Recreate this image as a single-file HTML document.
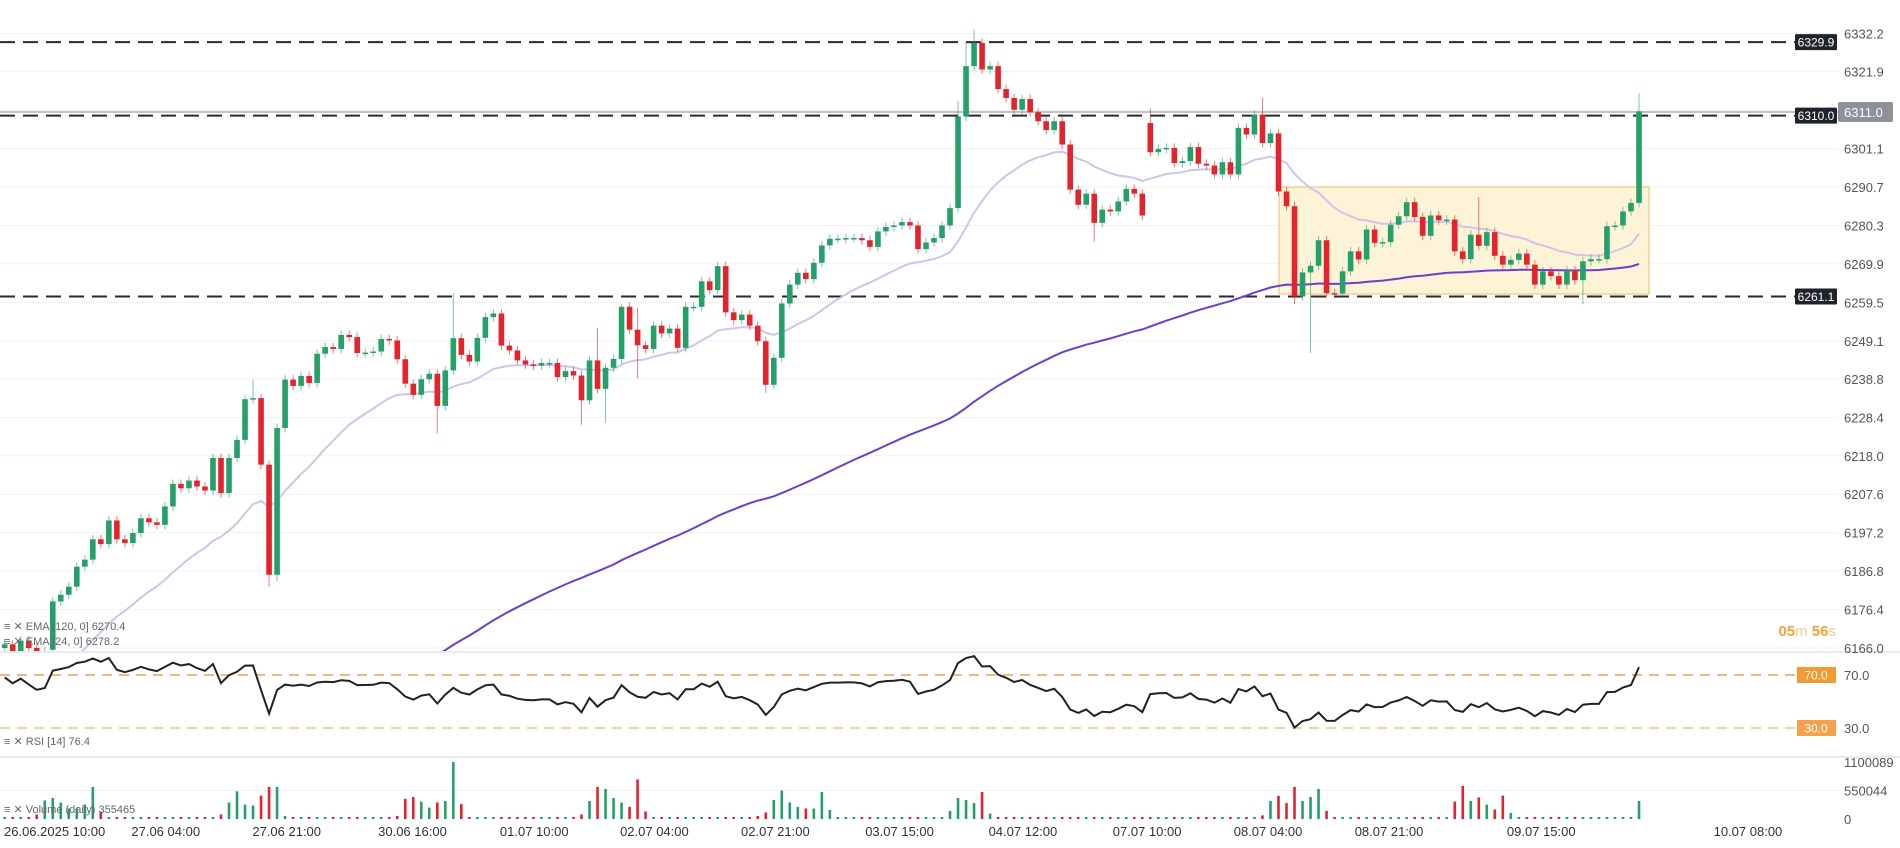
<!DOCTYPE html>
<html><head><meta charset="utf-8"><style>
html,body{margin:0;padding:0;background:#fff;width:1900px;height:848px;overflow:hidden;}
svg{display:block;font-family:"Liberation Sans",sans-serif;overflow:hidden;}
</style></head><body>
<svg id="chart" width="1900" height="848" viewBox="0 0 1900 848" xmlns="http://www.w3.org/2000/svg">
<defs><clipPath id="mainClip"><rect x="0" y="0" width="1838" height="651"/></clipPath>
<clipPath id="rsiClip"><rect x="0" y="653" width="1838" height="103"/></clipPath></defs>
<g id="grid"></g>
<rect x="1279" y="187" width="370" height="107" fill="#fdf3d6" stroke="#f3c57a" stroke-width="1.2"/>
<g id="levels"></g>
<g id="main" clip-path="url(#mainClip)"></g>
<g id="rsi"></g>
<g id="vol"></g>
<g id="axis"></g>
<g id="taxis"></g>
<text x="1836" y="636" text-anchor="end" font-size="15" font-weight="bold" fill="#f7a23a">05<tspan fill="#f9c98a" font-weight="normal">m</tspan> 56<tspan fill="#f9c98a" font-weight="normal">s</tspan></text>
<g font-size="11" fill="#666">
<text x="4" y="630">≡ ✕ EMA [120, 0] 6270.4</text>
<text x="4" y="645">≡ ✕ EMA [24, 0] 6278.2</text>
<text x="4" y="745">≡ ✕ RSI [14] 76.4</text>
<text x="4" y="813">≡ ✕ Volume (daily) 355465</text>
</g>
</svg>
<script>
const closes=[6167,6165,6168,6166,6164,6165,
6178.6,6180.4,6182.6,6188.0,6189.9,6195.4,6194.1,6200.5,6195.4,6194.4,6197.1,6201.1,6200.0,6199.3,6204.3,6210.4,6209.2,6211.3,6209.7,6208.6,6217.4,6207.9,6217.4,6222.3,6233.3,6233.6,6215.6,6185.8,6225.5,6238.6,6236.9,6239.6,6237.7,6245.6,6247.4,6246.9,6250.7,6250.1,6245.8,6245.9,6246.2,6249.6,6249.2,6244.1,6237.5,6234.5,6238.7,6240.2,6231.5,6241.1,6249.8,6245.3,6243.5,
6249.9,6255.5,6256.5,6247.8,6246.5,6243.8,6242.7,6242.4,6243.1,6243.1,6239.3,6240.9,6239.7,6233.0,6243.8,6236.1,6241.8,6244.2,6258.3,6252.1,6247.9,6246.9,6253.2,6251.1,6252.4,6247.2,6258.3,6258.3,6265.2,6262.8,6269.3,6256.8,6254.7,6256.2,6253.2,6249.0,6237.2,6244.5,6259.2,6264.3,6267.5,6265.8,6270.2,6274.9,6276.7,6276.7,6276.9,
6276.9,6276.3,6274.5,6278.7,6279.9,6280.3,6281.2,6280.3,6273.9,6275.7,6276.9,6280.3,6285.0,6309.8,6323.4,6329.7,6322.5,6323.4,6317.2,6314.8,6311.6,6314.5,6310.9,6308.5,6306.1,6308.5,6302.2,6290.0,6285.9,6288.9,6281.0,6284.6,6284.1,6286.8,6290.2,6288.9,6283.0,
6300.1,6301.0,6301.3,6297.2,6297.7,6301.5,6297.0,6296.5,6294.1,6297.4,6294.1,6306.7,6304.9,6310.3,6302.6,6305.2,6289.5,6285.5,6261.1,
6267.6,6269.4,6276.3,6262.0,6261.9,6267.9,6273.3,6271.1,6279.2,6275.6,6275.8,6280.5,6282.8,6286.6,6282.6,6277.5,6283.0,6281.7,6281.9,6273.3,6271.2,6277.8,6274.8,6278.5,6272.1,6269.7,6271.0,6272.7,6269.7,6264.3,6267.9,6266.6,6264.3,6268.2,6265.5,6270.6,6271.2,6271.2,6280.1,6280.3,6284.1,6286.4,6311.2];
const gapIdx=[6,143];
const gapOpen=[6165.5,6308];
const highIdx=[31,56,74,77,79,119,120,121,143,157,184,204];
const highVal=[6238.6,6262,6252.6,6259,6258,6314,6330,6333.3,6312,6314.8,6288,6316];
const lowIdx=[33,34,54,72,75,79,95,136,161,163,197];
const lowVal=[6182.6,6184,6224,6226.4,6226.9,6239,6235,6276,6259,6245.8,6259];
const volumesK=[8,8,8,8,87,359,405,318,203,203,278,620,145,8,8,8,8,8,8,8,
8,8,8,8,8,8,8,87,318,533,278,260,452,620,620,58,8,8,8,8,
8,8,8,8,8,8,8,8,8,58,388,423,336,220,318,347,1100,290,8,8,
8,8,8,8,8,8,8,8,8,8,8,8,87,347,620,579,405,318,232,764,
145,8,8,8,8,8,8,8,8,8,8,8,8,8,58,127,365,550,318,232,
203,203,521,174,8,8,8,8,8,8,8,8,8,8,8,8,8,29,156,405,
365,307,521,104,8,8,8,8,8,8,8,8,8,8,8,8,8,8,8,8,
8,8,8,8,8,8,8,8,8,8,8,8,8,8,8,8,8,70,347,446,
307,620,347,423,579,156,8,8,8,8,8,8,8,8,8,8,8,8,8,8,
40,336,637,347,417,278,185,452,116,8,8,8,8,8,8,8,8,8,8,8,
8,8,8,40,347];
const priceTicks=["6166.0","6176.4","6186.8","6197.2","6207.6","6218.0","6228.4","6238.8","6249.1","6259.5","6269.9","6280.3","6290.7","6301.1","6311.5","6321.9","6332.2"];
const levelValues=[6329.9,6310.0,6261.1];
const lastPrice=6311.0;
const timeLabels=["26.06.2025 10:00","27.06 04:00","27.06 21:00","30.06 16:00","01.07 10:00","02.07 04:00","02.07 21:00","03.07 15:00","04.07 12:00","07.07 10:00","08.07 04:00","08.07 21:00","09.07 15:00","10.07 08:00"];
const timeIdx=[6.7,20.1,35.2,50.9,66.1,81.1,96.2,111.7,127.1,142.6,157.7,172.8,191.8,217.6];
const volTicks=[0,550044,1100089];
const rsiLevels=[70,30];

const NS="http://www.w3.org/2000/svg";
function mk(tag,attrs,parent){const e=document.createElementNS(NS,tag);for(const k in attrs)e.setAttribute(k,attrs[k]);parent.appendChild(e);return e;}
const X0=4.7,STEP=(1639-4.7)/204;
const xS=i=>X0+i*STEP;
const yP=p=>648-(p-6166)*3.6967;
const yR=v=>675+(70-v)*1.325;
const yV=v=>819-v/1100089*57;
const GREEN="#26a06a",RED="#e5232c";

const grid=document.getElementById('grid');
priceTicks.forEach(t=>{const l=mk('line',{x1:0,x2:1838,y1:yP(+t),y2:yP(+t),stroke:'#f1f1f3','stroke-width':1},grid);
});
[652,757].forEach(y=>{const l=mk('line',{x1:0,x2:1900,y1:y,y2:y,stroke:'#dcdde0','stroke-width':1.2},grid);
});
const mg=mk('line',{x1:0,x2:1838,y1:yV(550044),y2:yV(550044),stroke:'#f1f1f3'},grid);


const opens=closes.map((c,i)=>i===0?c-1:closes[i-1]);
gapIdx.forEach((g,k)=>opens[g]=gapOpen[k]);
const highs=closes.map((c,i)=>Math.max(c,opens[i])+1.2);
const lows=closes.map((c,i)=>Math.min(c,opens[i])-1.2);
highIdx.forEach((g,k)=>highs[g]=highVal[k]);
lowIdx.forEach((g,k)=>lows[g]=lowVal[k]);

function ema(n,seed){const a=2/(n+1);let e=seed;return closes.map(c=>(e=e+a*(c-e)));}
const ema24=ema(24,6150), ema120=ema(120,6080);
const main=document.getElementById('main');
function path(arr,yf,maxY){return arr.map((v,i)=>(i?'L':'M')+xS(i).toFixed(1)+' '+Math.min(maxY,Math.max(0,yf(v))).toFixed(1)).join(' ');}
const e24=mk('path',{d:path(ema24,yP,700),fill:'none',stroke:'#cdc5ea','stroke-width':2},main);

const e120=mk('path',{d:path(ema120,yP,700),fill:'none',stroke:'#6b3fd1','stroke-width':2},main);


closes.forEach((c,i)=>{
 const o=opens[i],up=c>=o,col=up?GREEN:RED,x=xS(i);
 const g=mk('g',{},main);
 
 mk('line',{x1:x,x2:x,y1:yP(highs[i]),y2:yP(lows[i]),stroke:col,'stroke-width':1,opacity:0.6},g);
 const top=yP(Math.max(o,c)),bot=yP(Math.min(o,c));
 mk('rect',{x:x-2.8,y:top,width:5.6,height:Math.max(1.5,bot-top),fill:col},g);
});

const lv=document.getElementById('levels');
const cl=mk('line',{x1:0,x2:1838,y1:yP(lastPrice),y2:yP(lastPrice),stroke:'#888','stroke-width':1},lv);

levelValues.forEach(v=>{
 const l=mk('line',{x1:0,x2:1797,y1:yP(v),y2:yP(v),stroke:'#2a2a2a','stroke-width':2,'stroke-dasharray':'15 8'},lv);
 
});

const ax=document.getElementById('axis');
priceTicks.forEach(t=>{const tx=mk('text',{x:1844,y:yP(+t)+5,'font-size':13,fill:'#555'},ax);tx.textContent=t;
});
levelValues.forEach(v=>{
 const y=yP(v);
 const r=mk('rect',{x:1795,y:y-8,width:42,height:16,fill:'#1f232b',rx:1},ax);
 
 const t=mk('text',{x:1816,y:y+4.5,'font-size':12,fill:'#fff','text-anchor':'middle'},ax);t.textContent=v.toFixed(1);
 
});
{const y=yP(lastPrice);
 const r=mk('rect',{x:1838,y:y-10,width:55,height:20,fill:'#8d9199',rx:2},ax);
 
 const t=mk('text',{x:1844,y:y+5,'font-size':13,fill:'#fff'},ax);t.textContent=lastPrice.toFixed(1);
 }

let ag=1.5,al=0.7;const rsi=[100-100/(1+ag/al)];
for(let i=1;i<closes.length;i++){const d=closes[i]-closes[i-1];ag=(ag*13+Math.max(d,0))/14;al=(al*13+Math.max(-d,0))/14;rsi.push(100-100/(1+ag/al));}
const rg=document.getElementById('rsi');
rsiLevels.forEach((v,k)=>{
 const l=mk('line',{x1:0,x2:1797,y1:yR(v),y2:yR(v),stroke:k?'#f6c08f':'#f0a24e','stroke-width':1.5,'stroke-dasharray':'10 7'},rg);
 
 const r=mk('rect',{x:1797,y:yR(v)-8,width:39,height:16,fill:k?'#f7a24a':'#f39a33'},rg);
 
 const t=mk('text',{x:1816,y:yR(v)+4.5,'font-size':12,fill:'#fff','text-anchor':'middle'},rg);t.textContent=v.toFixed(1);
 
 const t2=mk('text',{x:1844,y:yR(v)+5,'font-size':13,fill:'#555'},rg);t2.textContent=v.toFixed(1);
 
});
const rp=mk('path',{d:path(rsi,yR,760),fill:'none',stroke:'#222','stroke-width':2,'clip-path':'url(#rsiClip)'},rg);


const vg=document.getElementById('vol');
volumesK.forEach((v,i)=>{
 const val=v*1000,x=xS(i),up=closes[i]>=opens[i];
 const y=yV(val);
 const b=mk('rect',{x:x-1.3,y:Math.min(y,817),width:2.6,height:Math.max(2,819-y),fill:up?GREEN:RED},vg);
 
});
volTicks.forEach(v=>{const t=mk('text',{x:1844,y:yV(v)+5,'font-size':13,fill:'#555'},vg);t.textContent=String(v);
 });

const ta=document.getElementById('taxis');
timeLabels.forEach((s,k)=>{
 const first=k===0;
 const t=mk('text',{x:first?4:xS(timeIdx[k]),y:836,'font-size':13,fill:'#333','text-anchor':first?'start':'middle'},ta);
 t.textContent=s;
 
});
</script>
</body></html>
